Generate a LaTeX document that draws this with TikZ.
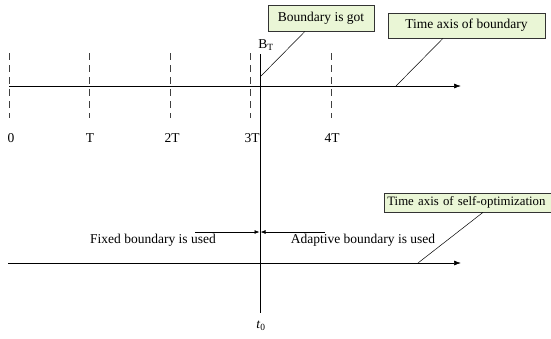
\documentclass[tikz,border=0pt]{standalone}
\usepackage{fontspec}
\setmainfont{Liberation Serif}
\usetikzlibrary{arrows.meta}
\definecolor{notegreen}{RGB}{234,246,214}

\begin{document}
\begin{tikzpicture}[x=1pt, y=-1pt, line width=0.7pt,
    every node/.style={font=\fontsize{13.5}{15}\selectfont},
    note/.style={draw=black!80, fill=notegreen, inner sep=0pt},
    tickline/.style={dashed, dash pattern=on 7pt off 5pt, black!75},
    axis/.style={-{Latex[length=7pt,width=5pt]}}]
  \useasboundingbox (0,0) rectangle (551,338);
  % time axis of boundary (upper)
  \coordinate (ustart) at (9,86);
  \coordinate (uend) at (461,86);
  \draw[axis] (ustart) -- (uend);
  \foreach \x/\lx/\lab [count=\i] in {9/11/0, 89/90/T, 170/172/2T, 250/252/3T, 331/332/4T} {
    \coordinate (ttop\i) at (\x,53);
    \coordinate (tbot\i) at (\x,118);
    \draw[tickline] (ttop\i) -- (tbot\i);
    \node (tlab\i) at (\lx,138) {\lab};
  }
  % t0 line
  \coordinate (ttop) at (260,54);
  \coordinate (tbot) at (260,313);
  \draw (ttop) -- (tbot);
  \node (bt) at (266,45) {B\textsubscript{T}};
  \node (tzero) at (261,326) {\textit{t}\textsubscript{0}};
  % notes
  \node[note, minimum width=106pt, minimum height=26pt] (got) at (321,18) {Boundary is got};
  \node[note, minimum width=157pt, minimum height=25pt] (axb) at (466.5,25.5) {Time axis of boundary};
  \node[note, anchor=west, minimum width=180pt, minimum height=19pt, inner xsep=3pt, text width=174pt,
    font=\fontsize{12.8}{15}\selectfont] (axs) at (384,202.5) {Time axis of self-optimization};
  \coordinate (gotfoot) at (261,76);
  \coordinate (axbfoot) at (396,86);
  \draw[line width=0.5pt] (gotfoot) -- ([xshift=-16pt]got.south);
  \draw[line width=0.5pt] (axbfoot) -- ([xshift=-23.5pt]axb.south);
  % time axis of self-optimization (lower)
  \coordinate (lstart) at (8,263);
  \coordinate (lend) at (461,263);
  \draw[axis] (lstart) -- (lend);
  \coordinate (axsfoot) at (418,263);
  \draw[line width=0.5pt] (axsfoot) -- ([xshift=99pt]axs.south west);
  % fixed / adaptive boundary
  \coordinate (fixl) at (195,232);
  \coordinate (fixr) at (259.5,232);
  \coordinate (adar) at (325,232);
  \coordinate (adal) at (260.5,232);
  \draw[-{Latex[length=5pt,width=4pt]}] (fixl) -- (fixr);
  \draw[-{Latex[length=5pt,width=4pt]}] (adar) -- (adal);
  \node (fixed) at (153,240) {Fixed boundary is used};
  \node (adapt) at (363,240) {Adaptive boundary is used};
\end{tikzpicture}
\end{document}
